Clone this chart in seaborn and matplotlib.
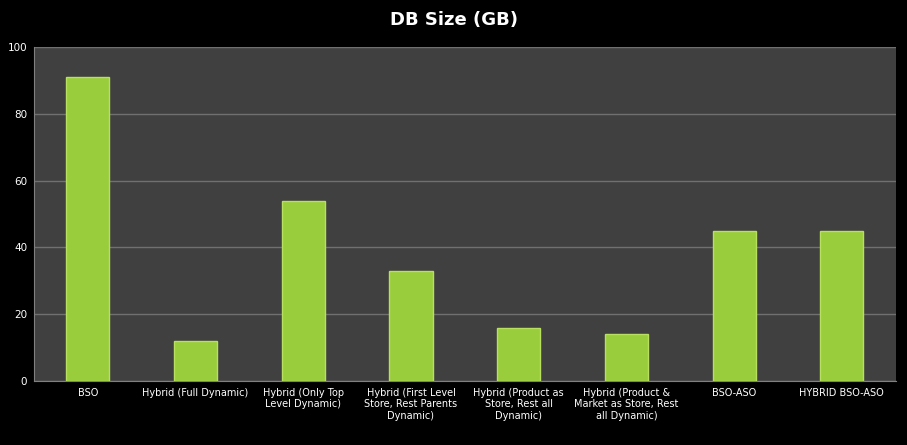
import matplotlib
matplotlib.use("Agg")
import matplotlib.pyplot as plt
import seaborn as sns
import pandas as pd

categories = ["BSO", "Hybrid (Full Dynamic)", "Hybrid (Only Top\nLevel Dynamic)",
              "Hybrid (First Level\nStore, Rest Parents\nDynamic)",
              "Hybrid (Product as\nStore, Rest all\nDynamic)",
              "Hybrid (Product &\nMarket as Store, Rest\nall Dynamic)",
              "BSO-ASO", "HYBRID BSO-ASO"]
values = [91, 12, 54, 33, 16, 14, 45, 45]
yticks = [0, 20, 40, 60, 80, 100]

df = pd.DataFrame({"cat": categories, "val": values})
fig = plt.figure(figsize=(9.07, 4.45), dpi=100, facecolor="black")
ax = fig.add_axes([0.0375, 0.144, 0.95, 0.75])
ax.set_facecolor("#404040")
sns.barplot(data=df, x="cat", y="val", ax=ax, color="#9acd3c", width=0.4,
            saturation=1, edgecolor="#b8e060", linewidth=1, zorder=3)
ax.set_ylim(0, 100)
ax.set_yticks(yticks)
ax.grid(axis="y", color="#707070", linewidth=1, zorder=0)
ax.set_xlabel(""); ax.set_ylabel("")
ax.tick_params(colors="white", labelsize=7.5, length=0, pad=5)
for lbl in ax.get_xticklabels():
    lbl.set_fontsize(7)
for s in ["top", "right"]:
    ax.spines[s].set_visible(False)
for s in ["left", "bottom"]:
    ax.spines[s].set_color("#808080")
fig.suptitle("DB Size (GB)", color="white", fontsize=13, fontweight="bold", y=0.975)
fig.savefig("out.png", facecolor="black")
